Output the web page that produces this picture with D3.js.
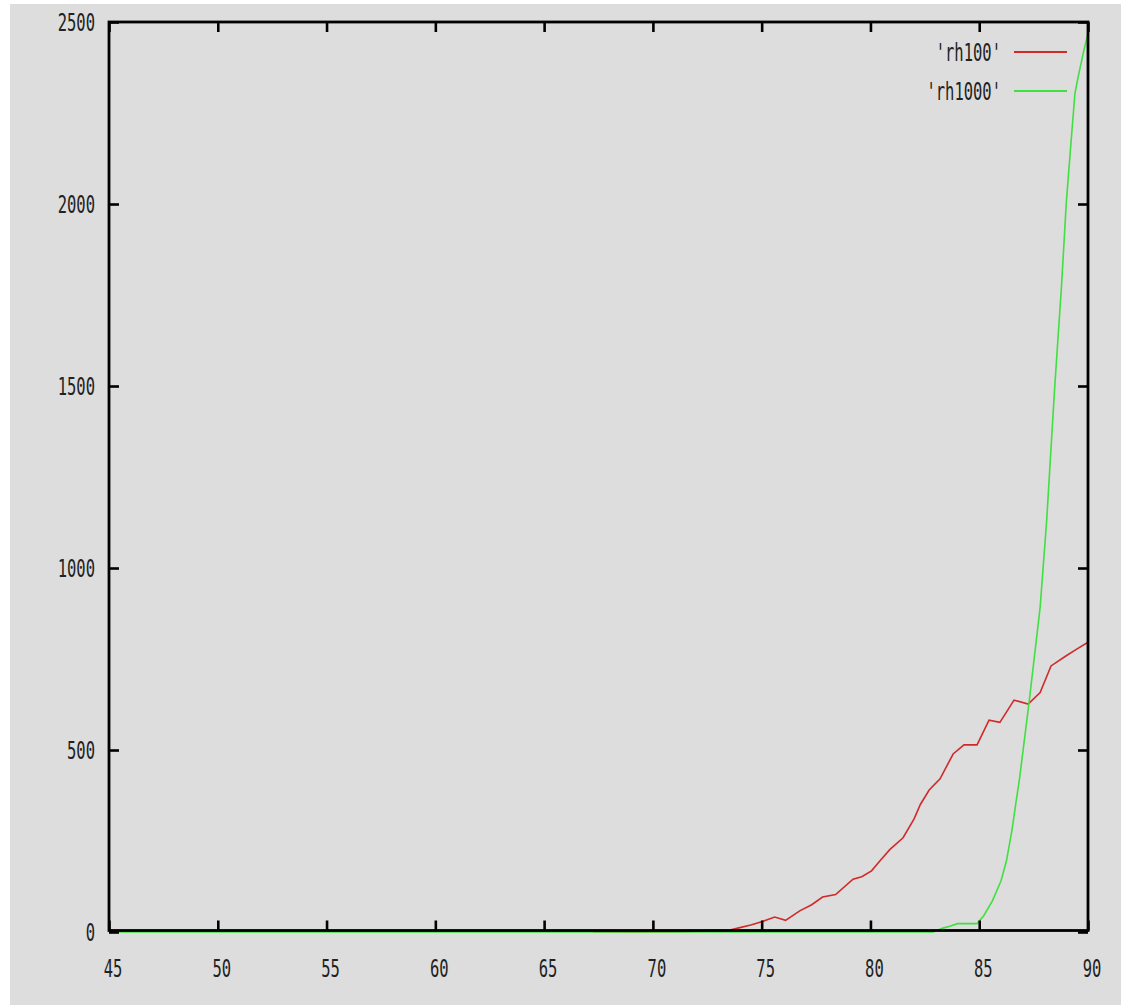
<!DOCTYPE html>
<html>
<head>
<meta charset="utf-8">
<script src="https://cdn.jsdelivr.net/npm/d3@7/dist/d3.min.js"></script>
<style>
  body { margin: 0; background: #ffffff; }
  .lbl { font-family: "DejaVu Sans Mono", monospace; font-size: 25px; fill: #222; }
</style>
</head>
<body>
<div id="chart"></div>
<script>
// tick values
var xTicks = [45, 50, 55, 60, 65, 70, 75, 80, 85, 90];
var yTicks = [0, 500, 1000, 1500, 2000, 2500];

// series names (legend)
var seriesNames = ["'rh100'", "'rh1000'"];

// 'rh100'
var rh100X = [67.25, 68, 69, 70, 71, 72, 72.5, 73, 73.5, 74, 74.5, 75, 75.6, 76.1, 76.75, 77.3, 77.8, 78.4, 79.2, 79.6,
              80.05, 80.5, 80.9, 81.5, 82, 82.3, 82.7, 83.2, 83.8, 84.3, 84.9, 85.45, 85.95, 86.6, 87.25, 87.8, 88.3, 89, 89.5, 90];
var rh100Y = [1, 1, 0, 1, 1, 2, 4, 4, 5, 12, 19, 28, 41, 32, 58, 75, 96, 103, 145, 152,
              168, 200, 227, 259, 310, 351, 390, 421, 489, 514, 514, 582, 576, 637, 626, 658, 731, 759, 778, 796];

// 'rh1000'
var rh1000X = [45, 82.9, 83.3, 83.65, 84, 84.9, 85.2, 85.6, 86, 86.25, 86.5, 86.7, 86.85, 87.3, 87.8, 88.1, 88.47, 88.78, 89, 89.24, 89.4, 89.55, 89.78, 90];
var rh1000Y = [0, 0, 10, 16, 23, 23, 44, 85, 140, 195, 278, 360, 420, 635, 892, 1130, 1497, 1772, 2001, 2185, 2304, 2350, 2414, 2469];

var width = 1121, height = 1005;

var svg = d3.select("#chart").append("svg")
  .attr("width", width)
  .attr("height", height);

// grey page
svg.append("rect")
  .attr("x", 10).attr("y", 4)
  .attr("width", width - 10).attr("height", height - 4)
  .attr("fill", "#dddddd");

var x = d3.scaleLinear().domain([45, 90]).range([109, 1088]);
var y = d3.scaleLinear().domain([0, 2500]).range([932, 22]);

var line = d3.line()
  .x(function (d) { return x(d[0]); })
  .y(function (d) { return y(d[1]); });

var red = "#d02a2a", green = "#3fe03f";

svg.append("path")
  .datum(d3.zip(rh100X, rh100Y))
  .attr("d", line)
  .attr("fill", "none").attr("stroke", red).attr("stroke-width", 1.6);

svg.append("path")
  .datum(d3.zip(rh1000X, rh1000Y))
  .attr("d", line)
  .attr("fill", "none").attr("stroke", green).attr("stroke-width", 1.6);

// frame
var pTop = 22, pBottom = 930.5, pLeft = 109, pRight = 1088;
svg.append("rect")
  .attr("x", pLeft).attr("y", pTop)
  .attr("width", pRight - pLeft).attr("height", pBottom - pTop)
  .attr("fill", "none").attr("stroke", "#000").attr("stroke-width", 2.8);

// ticks, pointing inwards on all four sides
function styleAxis(g) {
  g.select(".domain").remove();
  g.selectAll(".tick line").attr("stroke", "#000").attr("stroke-width", 2.6);
}

svg.append("g").attr("transform", "translate(0," + pBottom + ")")
  .call(d3.axisBottom(x).tickValues(xTicks).tickSize(-10).tickFormat(""))
  .call(styleAxis);
svg.append("g").attr("transform", "translate(0," + pTop + ")")
  .call(d3.axisTop(x).tickValues(xTicks).tickSize(-10).tickFormat(""))
  .call(styleAxis);
svg.append("g").attr("transform", "translate(" + pLeft + ",0)")
  .call(d3.axisLeft(y).tickValues(yTicks).tickSize(-10).tickFormat(""))
  .call(styleAxis);
svg.append("g").attr("transform", "translate(" + pRight + ",0)")
  .call(d3.axisRight(y).tickValues(yTicks).tickSize(-10).tickFormat(""))
  .call(styleAxis);

// tick labels (narrow gnuplot-like font)
svg.selectAll(".xl").data(xTicks).enter().append("text")
  .attr("class", "lbl")
  .attr("text-anchor", "middle")
  .attr("transform", function (d) { return "translate(" + (x(d) + 4) + ",977) scale(0.62,1)"; })
  .text(function (d) { return d; });

svg.selectAll(".yl").data(yTicks).enter().append("text")
  .attr("class", "lbl")
  .attr("text-anchor", "end")
  .attr("transform", function (d) { return "translate(95," + (y(d) + 9) + ") scale(0.62,1)"; })
  .text(function (d) { return d; });

// legend
var legendY = [52, 91];
var colors = [red, green];
seriesNames.forEach(function (name, i) {
  svg.append("text")
    .attr("class", "lbl")
    .attr("text-anchor", "end")
    .attr("transform", "translate(1001," + (legendY[i] + 9) + ") scale(0.62,1)")
    .text(name);
  svg.append("line")
    .attr("x1", 1014).attr("x2", 1067)
    .attr("y1", legendY[i]).attr("y2", legendY[i])
    .attr("stroke", colors[i]).attr("stroke-width", 2);
});
</script>
</body>
</html>
